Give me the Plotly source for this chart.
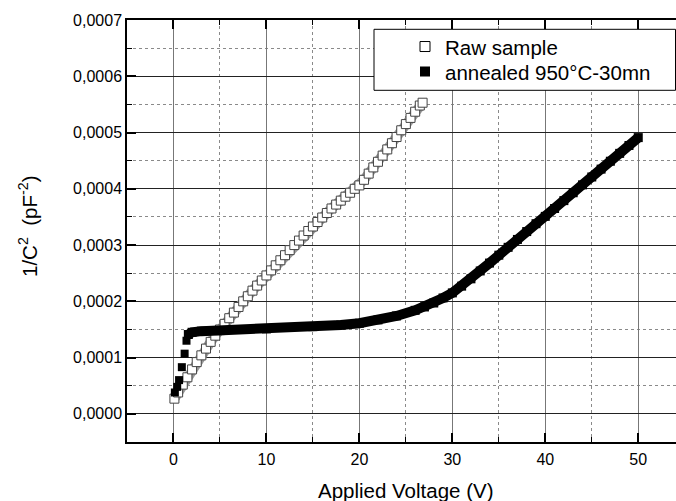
import plotly.graph_objects as go

# ---------------- data ----------------
raw_v = [0.1, 0.5, 1.0, 1.5, 2.0, 2.5, 3.0, 3.5, 4.0, 4.5, 5.0, 5.5, 6.0, 6.5, 7.0, 7.5,
         8.0, 8.5, 9.0, 9.5, 10.0, 10.5, 11.0, 11.5, 12.0, 12.5, 13.0, 13.5, 14.0, 14.5,
         15.0, 15.5, 16.0, 16.5, 17.0, 17.5, 18.0, 18.5, 19.0, 19.5, 20.0, 20.5, 21.0,
         21.5, 22.0, 22.5, 23.0, 23.5, 24.0, 24.5, 25.0, 25.5, 26.0, 26.5, 26.8]
raw_c = [0.27, 0.38, 0.52, 0.65, 0.79, 0.92, 1.04, 1.16, 1.28, 1.39, 1.50, 1.60, 1.70,
         1.80, 1.90, 2.00, 2.09, 2.19, 2.28, 2.37, 2.46, 2.55, 2.64, 2.73, 2.82, 2.91,
         3.00, 3.08, 3.17, 3.25, 3.33, 3.41, 3.49, 3.57, 3.65, 3.72, 3.79, 3.86, 3.93,
         4.00, 4.06, 4.16, 4.27, 4.38, 4.48, 4.59, 4.70, 4.81, 4.92, 5.04, 5.15, 5.26,
         5.37, 5.48, 5.53]  # x 1e-4

ann_low_v = [0.15, 0.4, 0.6, 0.9, 1.2, 1.4]
ann_low_c = [0.38, 0.48, 0.60, 0.83, 1.07, 1.30]  # x 1e-4

ann_v = [1.6, 2.0, 3.0, 5.0, 10.0, 15.0, 18.0, 20.0, 22.0, 24.0, 26.0, 27.0, 28.0, 29.0,
         30.0, 31.0, 32.0, 33.0, 34.0, 35.0, 36.0, 37.0, 38.0, 39.0, 40.0, 41.0, 42.0,
         43.0, 44.0, 45.0, 46.0, 47.0, 48.0, 49.0, 50.0]
ann_c = [1.41, 1.45, 1.47, 1.48, 1.51, 1.55, 1.58, 1.61, 1.67, 1.74, 1.84, 1.90, 1.97,
         2.06, 2.15, 2.27, 2.40, 2.54, 2.68, 2.82, 2.96, 3.10, 3.24, 3.38, 3.51, 3.65,
         3.79, 3.93, 4.07, 4.21, 4.35, 4.49, 4.63, 4.77, 4.91]  # x 1e-4

series_names = ["Raw sample", "annealed 950°C-30mn"]
x_title = "Applied Voltage (V)"
y_title = "1/C<sup>2</sup>\u00a0\u00a0(pF<sup>-2</sup>)"

scale = 1e-4
raw_y = [c * scale for c in raw_c]
ann_low_y = [c * scale for c in ann_low_c]
ann_y = [c * scale for c in ann_c]

FONT = "Arial, Liberation Sans, sans-serif"

fig = go.Figure()

# raw sample: grey band of overlapping open squares
fig.add_trace(go.Scatter(
    x=raw_v, y=raw_y, mode="lines+markers", showlegend=False,
    line=dict(color="#9a9a9a", width=10),
    marker=dict(symbol="square", size=9, color="white",
                line=dict(color="#444444", width=1)),
))
# annealed: sparse low-voltage points
fig.add_trace(go.Scatter(
    x=ann_low_v, y=ann_low_y, mode="markers", showlegend=False,
    marker=dict(symbol="square", size=8, color="black"),
))
# annealed: dense band
fig.add_trace(go.Scatter(
    x=ann_v, y=ann_y, mode="lines+markers", showlegend=False,
    line=dict(color="black", width=10),
    marker=dict(symbol="square", size=9, color="black"),
))

# legend entries (one legend per entry for exact placement)
fig.add_trace(go.Scatter(
    x=[None], y=[None], mode="markers", name=series_names[0], legend="legend",
    marker=dict(symbol="square", size=10, color="white",
                line=dict(color="black", width=1)),
))
fig.add_trace(go.Scatter(
    x=[None], y=[None], mode="markers", name=series_names[1], legend="legend2",
    marker=dict(symbol="square", size=10, color="black"),
))

W, H = 676, 501
ML, MR, MT, MB = 127, 0, 20, 59
PW, PH = W - ML - MR, H - MT - MB


def px(xp):
    return (xp - ML) / PW


def py(yp):
    return (H - MB - yp) / PH


leg_common = dict(
    xanchor="left", yanchor="middle",
    bgcolor="rgba(0,0,0,0)", borderwidth=0,
    font=dict(family=FONT, size=20.5, color="black"),
)

fig.update_layout(
    width=W, height=H,
    margin=dict(l=ML, r=MR, t=MT, b=MB, pad=0),
    paper_bgcolor="white", plot_bgcolor="white",
    separators=", ",
    font=dict(family=FONT, color="black", size=16),
    showlegend=True,
    legend=dict(x=px(405), y=py(46.7), **leg_common),
    legend2=dict(x=px(405), y=py(71.7), **leg_common),
    shapes=[dict(
        type="rect", xref="paper", yref="paper",
        x0=px(374), x1=px(675.5), y0=py(90.3), y1=py(29.3),
        line=dict(color="black", width=1), fillcolor="white", layer="above",
    )],
    annotations=[
        dict(text=x_title, xref="paper", yref="paper", x=px(406), y=py(490),
             xanchor="center", yanchor="middle", showarrow=False,
             font=dict(family=FONT, size=20.5, color="black")),
        dict(text=y_title, xref="paper", yref="paper", x=px(28), y=py(226),
             xanchor="center", yanchor="middle", showarrow=False, textangle=-90,
             font=dict(family=FONT, size=20.5, color="black")),
    ],
)

fig.update_xaxes(
    range=[-5, 54.06], tick0=0, dtick=10,
    showline=True, linecolor="black", linewidth=1.5, mirror="ticks",
    ticks="inside", ticklen=9, tickwidth=2, tickcolor="black",
    showgrid=True, gridcolor="#777777", gridwidth=1, zeroline=False,
    ticklabelstandoff=2,
    tickfont=dict(family=FONT, size=16, color="black"),
    minor=dict(dtick=5, tick0=0, ticks="inside", ticklen=5, tickwidth=1,
               tickcolor="black", showgrid=True, gridcolor="#8a8a8a",
               griddash="dot", gridwidth=1),
)
fig.update_yaxes(
    range=[-0.00005, 0.0007], tick0=0, dtick=0.0001, tickformat=".4f",
    showline=True, linecolor="black", linewidth=1.5, mirror=False,
    ticks="inside", ticklen=9, tickwidth=2, tickcolor="black",
    showgrid=True, gridcolor="#222222", gridwidth=1, zeroline=False,
    tickfont=dict(family=FONT, size=16, color="black"),
    minor=dict(dtick=0.00005, tick0=0, ticks="inside", ticklen=5, tickwidth=1,
               tickcolor="black", showgrid=True, gridcolor="#8a8a8a",
               griddash="dot", gridwidth=1),
)

fig.write_html(
    "out.html",
    config={"displayModeBar": False},
    post_script="document.body.style.margin='0';document.body.style.overflow='hidden';",
)
